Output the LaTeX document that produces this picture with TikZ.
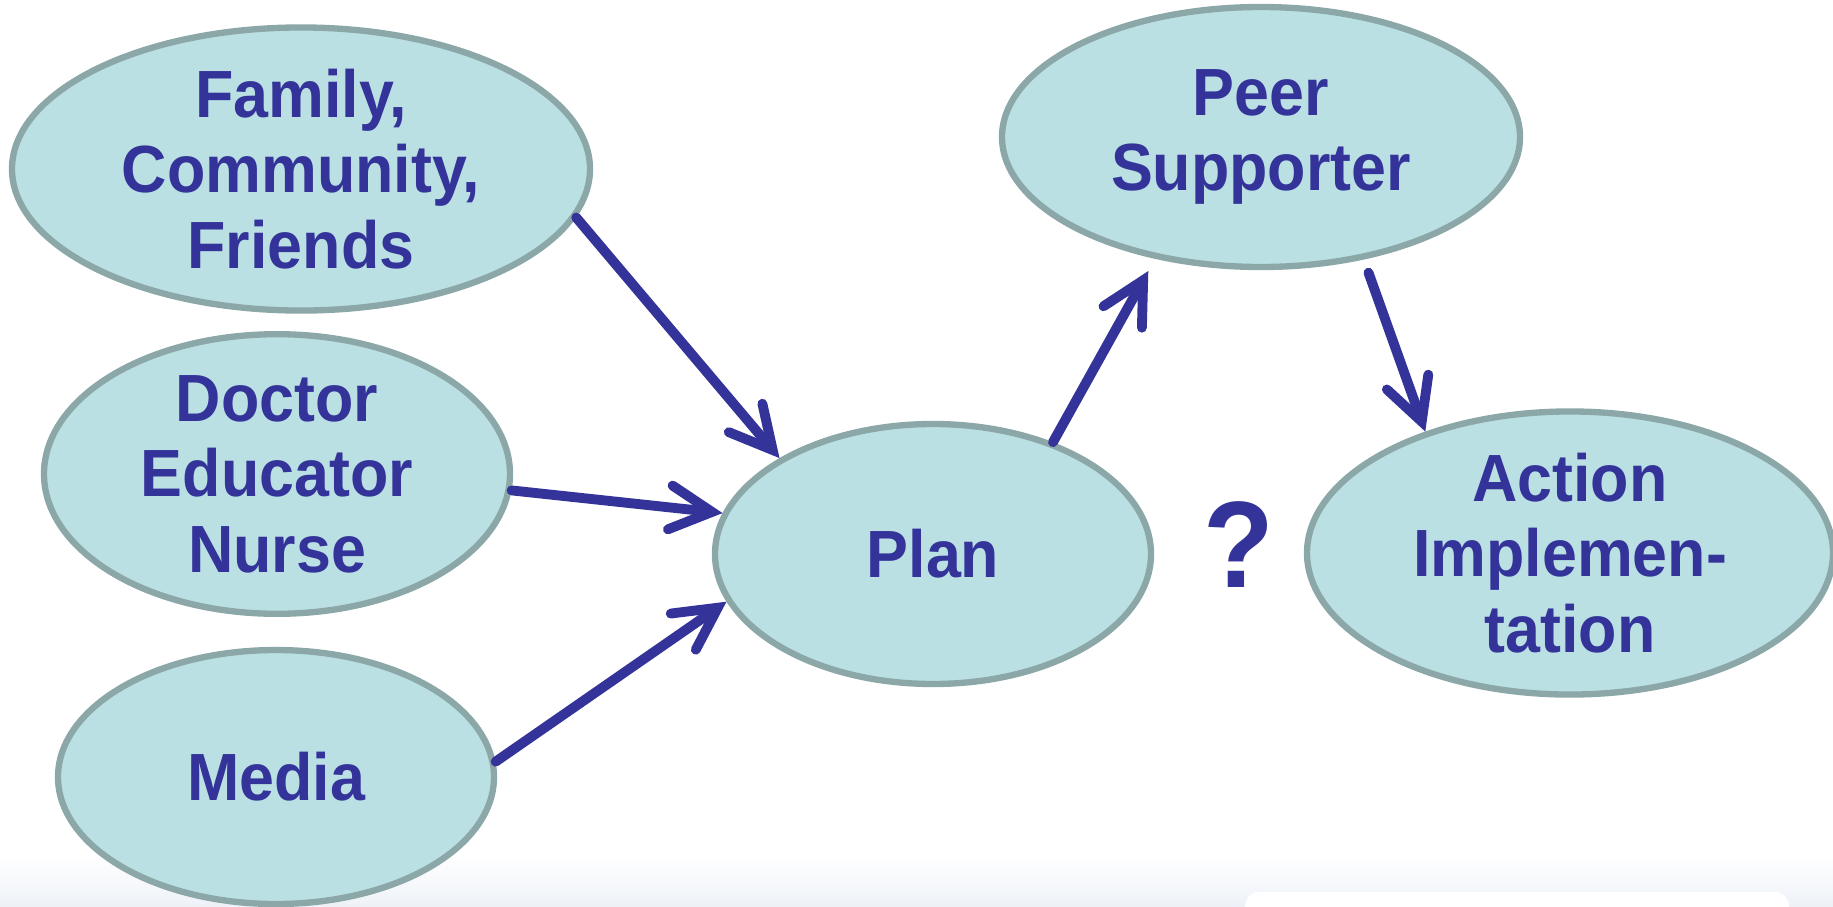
\documentclass[tikz,border=0pt]{standalone}
\usepackage{fontspec}
\setmainfont{Liberation Sans}[FakeStretch=0.94]
\usepackage{tikz}
\usetikzlibrary{arrows.meta,positioning,shapes.geometric}

\definecolor{bubble}{HTML}{BAE0E4}
\definecolor{bubbleline}{HTML}{8BA7A8}
\definecolor{ink}{HTML}{333399}
\definecolor{haze}{HTML}{EEF2F8}

\begin{document}
\begin{tikzpicture}[
    bubble/.style={ellipse, draw=bubbleline, line width=1.8pt, fill=bubble, inner sep=0pt, align=center, text=ink, font=\fontsize{19}{21.5}\selectfont\bfseries},
    arrow/.style={-{Straight Barb[length=4.2mm, width=4.4mm, line cap=round, line join=miter]}, line width=2.8pt, draw=ink, line cap=round}
]
\useasboundingbox (0,0) rectangle (18.33,-9.06);

% faint band at the foot of the slide
\shade[top color=white, bottom color=haze] (0,-8.55) rectangle (18.33,-9.06);
\fill[white, rounded corners=4pt] (12.45,-8.92) rectangle (17.89,-9.2);

% The ellipses
\node[bubble, minimum width=5.78cm, minimum height=2.6cm] (family) at (3.01,-1.69) {Family,\\Community,\\Friends};
\node[bubble, minimum width=4.66cm, minimum height=2.58cm] (doctor) at (2.77,-4.74) {Doctor\\Educator\\Nurse};
\node[bubble, minimum width=4.36cm, minimum height=2.54cm] (media) at (2.76,-7.77) {Media};
\node[bubble, minimum width=4.36cm, minimum height=2.6cm] (plan) at (9.33,-5.54) {Plan};
\node[bubble, minimum width=5.18cm, minimum height=2.6cm] (peer) at (12.61,-1.37) {Peer\\Supporter};
\node[bubble, minimum width=5.26cm, minimum height=2.6cm] (action) at (15.70,-5.53) {Action\\Implemen-\\tation};

% Main flow
\draw[arrow] (family.-10) -- (plan.148);
\draw[arrow] (doctor.-4) -- (plan.169);
\draw[arrow] (media.4) -- (plan.193);
\draw[arrow, shorten >=0.14cm] (plan.43) -- (peer.229);
\draw[arrow, shorten <=0.14cm] (peer.-50) -- (action.140);

% open question
\node[text=ink, font=\fontsize{35}{40}\selectfont\bfseries] (what) at (12.39,-5.45) {?};

\end{tikzpicture}
\end{document}
